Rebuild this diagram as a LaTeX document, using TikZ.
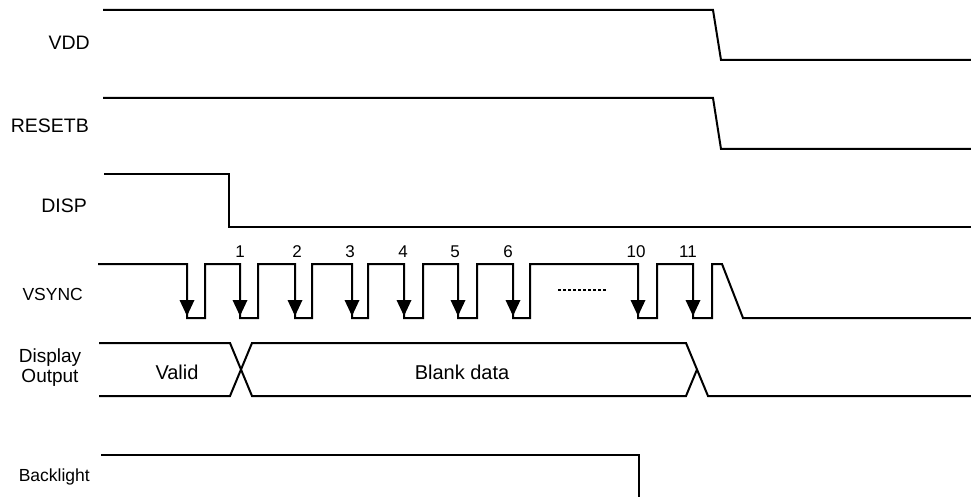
\documentclass[tikz,border=0pt]{standalone}
\usepackage{fontspec}
\setmainfont{Liberation Sans}
\begin{document}
\begin{tikzpicture}[x=1pt,y=-1pt,
  wave/.style={line width=2pt,line join=miter,black},
  lbl/.style={inner sep=0pt,font=\fontsize{19.5}{20}\selectfont},
  num/.style={inner sep=0pt,font=\fontsize{17}{18}\selectfont},
  arrowtri/.style={fill=black,draw=none}]
\useasboundingbox (0,0) rectangle (971,497);
% labels
\node[lbl,anchor=east] (lvdd) at (90,42.5) {VDD};
\node[lbl,anchor=east] (lrst) at (89,125.5) {RESETB};
\node[lbl,anchor=east] (ldisp) at (87,205.5) {DISP};
\node[lbl,anchor=east,font=\fontsize{17.5}{18}\selectfont] (lvs) at (83,294) {VSYNC};
\node[lbl,align=center,font=\fontsize{19}{20}\selectfont] (ldo) at (50,368) {Display\\Output};
\node[lbl,anchor=base east,font=\fontsize{17.5}{18}\selectfont] (lbl) at (90,481) {Backlight};
\node[lbl,font=\fontsize{20}{22}\selectfont] (valid) at (177,372.5) {Valid};
\node[lbl,font=\fontsize{20}{22}\selectfont] (blank) at (462,372.5) {Blank data};
% VDD
\draw[wave] (103,10) -- (713,10) -- (721,60) -- (971,60);
% RESETB
\draw[wave] (103,98) -- (713,98) -- (721,149) -- (971,149);
% DISP
\draw[wave] (104,174) -- (229,174) -- (229,227) -- (971,227);
% VSYNC
\draw[wave] (98,264) -- (187,264) -- (187,318) -- (205,318) -- (205,264)
  -- (240,264) -- (240,318) -- (258,318) -- (258,264)
  -- (295,264) -- (295,318) -- (312,318) -- (312,264)
  -- (352,264) -- (352,318) -- (368,318) -- (368,264)
  -- (404,264) -- (404,318) -- (423,318) -- (423,264)
  -- (458,264) -- (458,318) -- (477,318) -- (477,264)
  -- (513,264) -- (513,318) -- (530,318) -- (530,264)
  -- (638,264) -- (638,318) -- (657,318) -- (657,264)
  -- (693,264) -- (693,318) -- (712,318) -- (712,264)
  -- (722,264) -- (743,318) -- (971,318);
\foreach \x in {187,240,295,352,404,458,513,638,693}
  \fill[arrowtri] (\x-7.5,300) -- (\x+7.5,300) -- (\x,316) -- cycle;
\node[num] (n1) at (240,251.5) {1};
\node[num] (n2) at (297,251.5) {2};
\node[num] (n3) at (350,251.5) {3};
\node[num] (n4) at (403,251.5) {4};
\node[num] (n5) at (455,251.5) {5};
\node[num] (n6) at (508,251.5) {6};
\node[num] (n10) at (636,251.5) {10};
\node[num] (n11) at (688,251.5) {11};
\draw[line width=1.5pt,dash pattern=on 3pt off 2pt] (558,290) -- (606,290);
% Display output
\draw[wave] (99,343) -- (230,343) -- (252,396) -- (686,396) -- (697,369.5);
\draw[wave] (99,396) -- (230,396) -- (252,343) -- (686,343) -- (708,396) -- (971,396);
% Backlight
\draw[wave] (101,455) -- (639,455) -- (639,500);
\end{tikzpicture}
\end{document}
